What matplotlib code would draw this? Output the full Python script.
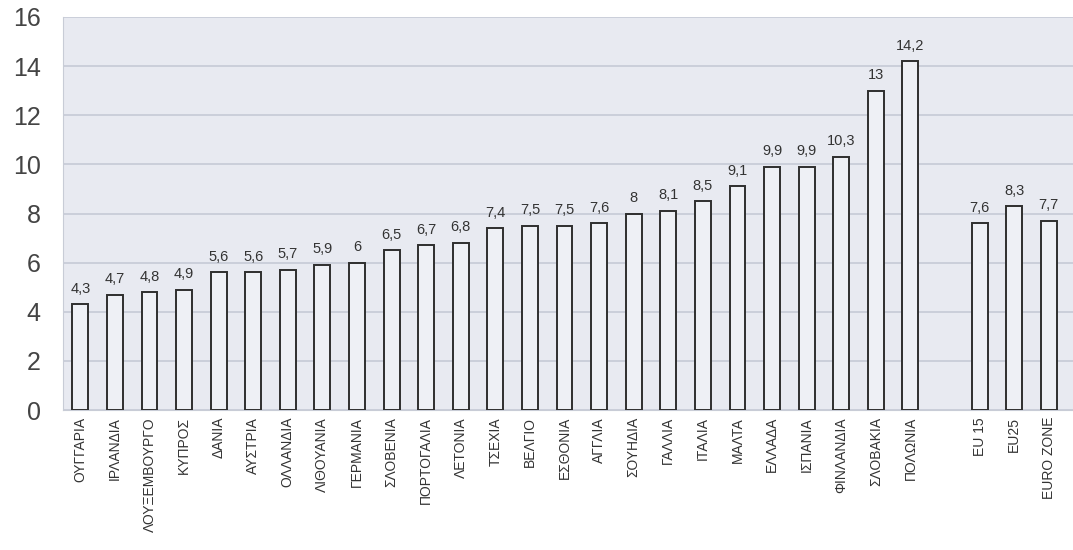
import matplotlib
matplotlib.use("Agg")
import matplotlib.pyplot as plt

plt.rcParams['font.family'] = ['Liberation Sans', 'DejaVu Sans']

countries = ["ΟΥΓΓΑΡΙΑ", "ΙΡΛΑΝΔΙΑ", "ΛΟΥΞΕΜΒΟΥΡΓΟ", "ΚΥΠΡΟΣ", "ΔΑΝΙΑ",
             "ΑΥΣΤΡΙΑ", "ΟΛΛΑΝΔΙΑ", "ΛΙΘΟΥΑΝΙΑ", "ΓΕΡΜΑΝΙΑ", "ΣΛΟΒΕΝΙΑ",
             "ΠΟΡΤΟΓΑΛΙΑ", "ΛΕΤΟΝΙΑ", "ΤΣΕΧΙΑ", "ΒΕΛΓΙΟ", "ΕΣΘΟΝΙΑ",
             "ΑΓΓΛΙΑ", "ΣΟΥΗΔΙΑ", "ΓΑΛΛΙΑ", "ΙΤΑΛΙΑ", "ΜΑΛΤΑ",
             "ΕΛΛΑΔΑ", "ΙΣΠΑΝΙΑ", "ΦΙΝΛΑΝΔΙΑ", "ΣΛΟΒΑΚΙΑ", "ΠΟΛΩΝΙΑ"]
country_values = [4.3, 4.7, 4.8, 4.9, 5.6, 5.6, 5.7, 5.9, 6, 6.5,
                  6.7, 6.8, 7.4, 7.5, 7.5, 7.6, 8, 8.1, 8.5, 9.1,
                  9.9, 9.9, 10.3, 13, 14.2]

aggregates = ["EU 15", "EU25", "EURO ZONE"]
aggregate_values = [7.6, 8.3, 7.7]

# country bars first, then one empty slot before the EU aggregates
positions = list(range(len(countries))) + \
    [len(countries) + 1 + i for i in range(len(aggregates))]
labels = countries + aggregates
values = country_values + aggregate_values

fig = plt.figure(figsize=(10.73, 5.5), dpi=100)
ax = fig.add_axes([63 / 1073, 1 - 410 / 550, (1073 - 63) / 1073, (410 - 17) / 550])
ax.set_facecolor("#e8eaf1")

ax.bar(positions, values, width=0.46, color="#eef0f5",
       edgecolor="#2e2e2e", linewidth=1.4, zorder=3)

for x, v in zip(positions, values):
    txt = f"{v:g}".replace(".", ",")
    ax.text(x, v + 0.35, txt, ha="center", va="bottom",
            fontsize=10.5, color="#333333", zorder=4)

ax.set_ylim(0, 16)
ax.set_yticks(range(0, 17, 2))
ax.set_xlim(-0.5, 28.7)
ax.set_xticks(positions)
ax.set_xticklabels(labels, rotation=90, fontsize=10, color="#333333")
ax.tick_params(axis="x", length=0, pad=5)
ax.tick_params(axis="y", length=0, pad=16, labelsize=18, labelcolor="#444444")

ax.grid(axis="y", color="#c6cad6", linewidth=1.2, zorder=0)
ax.set_axisbelow(True)
for side in ["top", "right"]:
    ax.spines[side].set_visible(False)
ax.spines["left"].set_color("#c8ccd6")
ax.spines["bottom"].set_color("#c8ccd6")

fig.savefig("out.png", dpi=100, facecolor="white")
